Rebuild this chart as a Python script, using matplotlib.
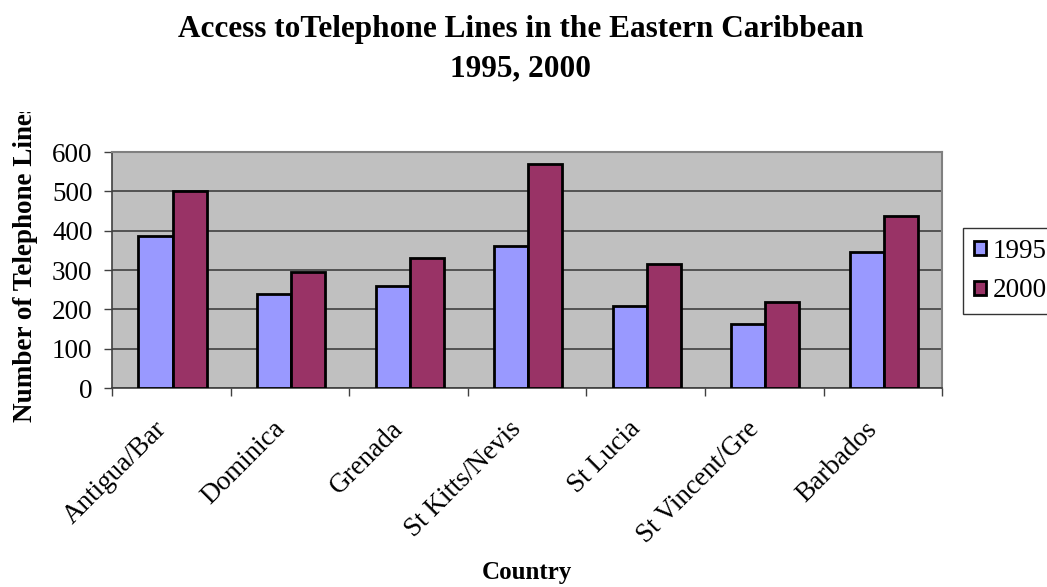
import numpy as np
import matplotlib
matplotlib.use("Agg")
import matplotlib.pyplot as plt
from matplotlib.transforms import Bbox, TransformedBbox, ScaledTranslation

countries = ["Antigua/Bar", "Dominica", "Grenada", "St Kitts/Nevis",
             "St Lucia", "St Vincent/Gre", "Barbados"]
lines_1995 = [386, 238, 260, 361, 209, 163, 345]
lines_2000 = [500, 295, 331, 570, 315, 218, 437]
years = ["1995", "2000"]
yticks = [0, 100, 200, 300, 400, 500, 600]

plt.rcParams['font.family'] = ['Liberation Serif', 'DejaVu Serif']

fig = plt.figure(figsize=(10.47, 5.87), dpi=100)
ax = fig.add_axes([0.107, 0.339, 0.7928, 0.402])
ax.set_facecolor("#C0C0C0")

x = np.arange(len(countries))
w = 0.287
ax.bar(x - w/2 + 0.01, lines_1995, w, color="#9999FF", edgecolor="black",
       linewidth=2, label=years[0], zorder=3)
ax.bar(x + w/2 + 0.01, lines_2000, w, color="#993366", edgecolor="black",
       linewidth=2, label=years[1], zorder=3)

ax.set_xlim(-0.5, len(countries) - 0.5)
ax.set_ylim(0, 600)
ax.set_yticks(yticks)
ax.set_yticklabels([str(v) for v in yticks], fontsize=19.5)
ax.yaxis.grid(True, color="#404040", linewidth=1.2, zorder=1)
ax.set_axisbelow(True)

# category labels sit between the boundary ticks
ax.set_xticks(np.arange(len(countries) + 1) - 0.5)
ax.set_xticklabels([])
ax.set_xticks(x, minor=True)
ax.set_xticklabels(countries, minor=True, rotation=45, ha="right",
                   rotation_mode="anchor", fontsize=19.5)
ax.tick_params(axis="x", which="minor", length=0, pad=9)
ax.tick_params(axis="x", which="major", length=6, width=1, color="#404040",
               direction="out")
ax.tick_params(axis="y", length=6, width=1, color="#404040", direction="out",
               pad=8)

# slide the slanted labels back along their own direction
shift = ScaledTranslation(-0.18, -0.16, fig.dpi_scale_trans)
for lab in ax.get_xticklabels(minor=True):
    lab.set_transform(lab.get_transform() + shift)

for s in ["top", "right"]:
    ax.spines[s].set_color("#808080")
    ax.spines[s].set_linewidth(1.5)
for s in ["left", "bottom"]:
    ax.spines[s].set_color("#404040")
    ax.spines[s].set_linewidth(1.2)

fig.text(0.497, 0.950, "Access toTelephone Lines in the Eastern Caribbean",
         ha="center", va="center", fontsize=22.5, fontweight="bold")
fig.text(0.497, 0.882, "1995, 2000", ha="center", va="center",
         fontsize=22.5, fontweight="bold")

fig.text(0.503, 0.025, "Country", ha="center", va="center", fontsize=18,
         fontweight="bold")

# y label is cut off at the top
ylab = fig.text(0.024, 0.553, "Number of Telephone Lines", rotation=90,
                ha="center", va="center", fontsize=19.5, fontweight="bold")
ylab.set_clip_on(True)
ylab.set_clip_box(TransformedBbox(Bbox([[0, 0], [1, 1 - 112/587]]),
                                  fig.transFigure))

leg = fig.legend(loc="upper left", bbox_to_anchor=(0.92, 0.612),
                 fontsize=19.5, frameon=True, fancybox=False,
                 edgecolor="black", handlelength=0.45, handleheight=0.45,
                 handletextpad=0.25, borderpad=0.4, borderaxespad=0,
                 labelspacing=0.55)
leg.get_frame().set_linewidth(1.0)

fig.savefig("out.png", dpi=100, facecolor="white")
